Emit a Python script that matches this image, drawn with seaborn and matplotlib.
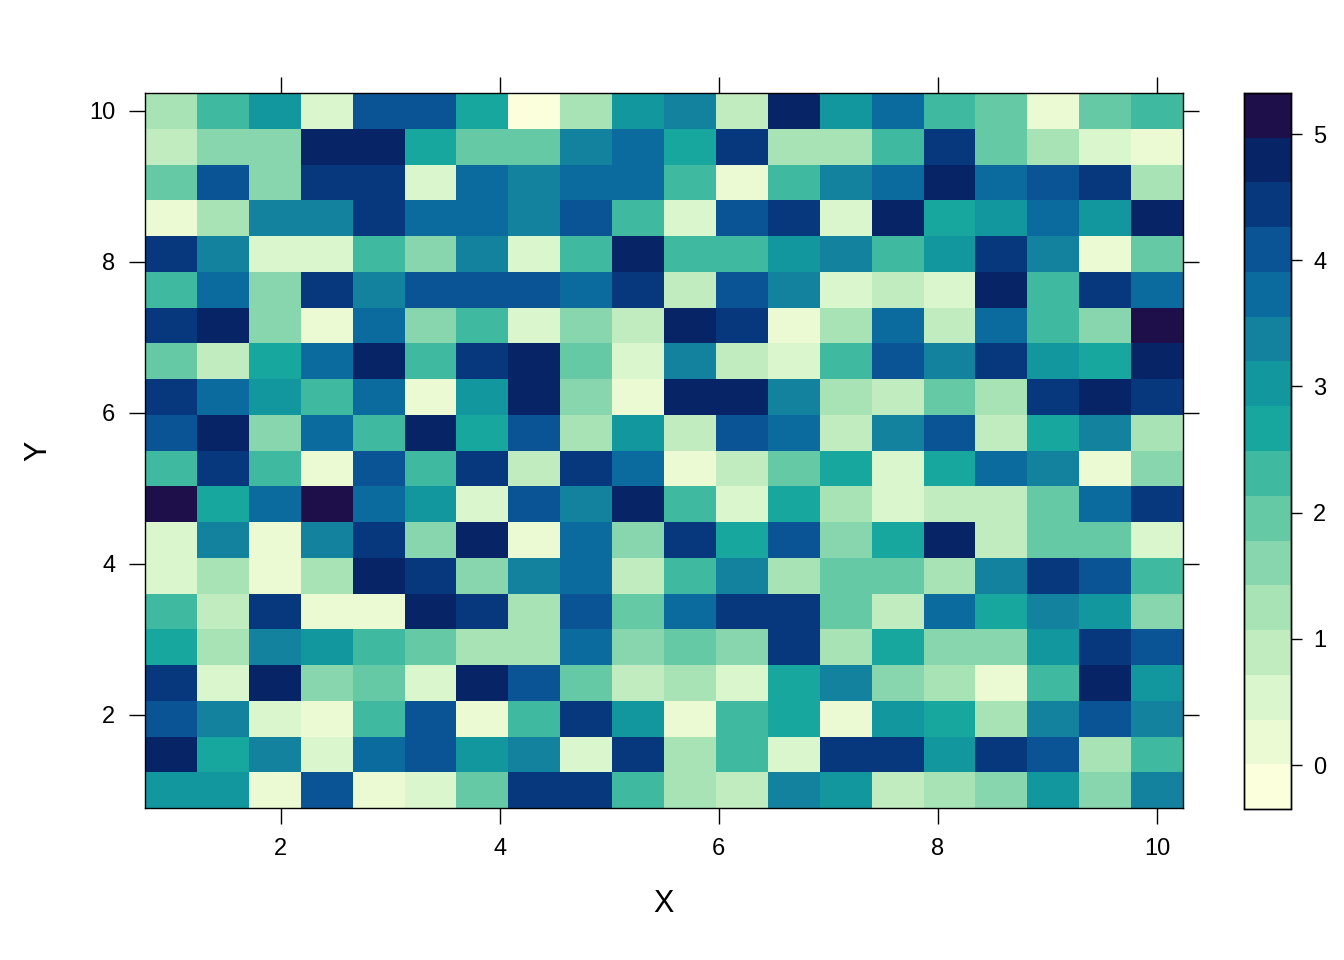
import numpy as np
import pandas as pd
import matplotlib
matplotlib.use("Agg")
import matplotlib.pyplot as plt
from matplotlib.colors import ListedColormap
import seaborn as sns

# --------------------------
# Dados
# --------------------------
x_vals = np.linspace(1, 10, 20)
y_vals = np.linspace(10, 1, 20)   # linhas de cima para baixo

z_rows = [
    [1.25, 2.31, 3.02, 0.54, 4.08, 4.08, 2.66, -0.17, 1.25, 3.02, 3.37, 0.89, 4.79, 3.02, 3.73, 2.31, 1.95, 0.18, 1.95, 2.31],
    [0.89, 1.60, 1.60, 4.79, 4.79, 2.66, 1.95, 1.95, 3.37, 3.73, 2.66, 4.44, 1.25, 1.25, 2.31, 4.44, 1.95, 1.25, 0.54, 0.18],
    [1.95, 4.08, 1.60, 4.44, 4.44, 0.54, 3.73, 3.37, 3.73, 3.73, 2.31, 0.18, 2.31, 3.37, 3.73, 4.79, 3.73, 4.08, 4.44, 1.25],
    [0.18, 1.25, 3.37, 3.37, 4.44, 3.73, 3.73, 3.37, 4.08, 2.31, 0.54, 4.08, 4.44, 0.54, 4.79, 2.66, 3.02, 3.73, 3.02, 4.79],
    [4.44, 3.37, 0.54, 0.54, 2.31, 1.60, 3.37, 0.54, 2.31, 4.79, 2.31, 2.31, 3.02, 3.37, 2.31, 3.02, 4.44, 3.37, 0.18, 1.95],
    [2.31, 3.73, 1.60, 4.44, 3.37, 4.08, 4.08, 4.08, 3.73, 4.44, 0.89, 4.08, 3.37, 0.54, 0.89, 0.54, 4.79, 2.31, 4.44, 3.73],
    [4.44, 4.79, 1.60, 0.18, 3.73, 1.60, 2.31, 0.54, 1.60, 0.89, 4.79, 4.44, 0.18, 1.25, 3.73, 0.89, 3.73, 2.31, 1.60, 5.15],
    [1.95, 0.89, 2.66, 3.73, 4.79, 2.31, 4.44, 4.79, 1.95, 0.54, 3.37, 0.89, 0.54, 2.31, 4.08, 3.37, 4.44, 3.02, 2.66, 4.79],
    [4.44, 3.73, 3.02, 2.31, 3.73, 0.18, 3.02, 4.79, 1.60, 0.18, 4.79, 4.79, 3.37, 1.25, 0.89, 1.95, 1.25, 4.44, 4.79, 4.44],
    [4.08, 4.79, 1.60, 3.73, 2.31, 4.79, 2.66, 4.08, 1.25, 3.02, 0.89, 4.08, 3.73, 0.89, 3.37, 4.08, 0.89, 2.66, 3.37, 1.25],
    [2.31, 4.44, 2.31, 0.18, 4.08, 2.31, 4.44, 0.89, 4.44, 3.73, 0.18, 0.89, 1.95, 2.66, 0.54, 2.66, 3.73, 3.37, 0.18, 1.60],
    [5.15, 2.66, 3.73, 5.15, 3.73, 3.02, 0.54, 4.08, 3.37, 4.79, 2.31, 0.54, 2.66, 1.25, 0.54, 0.89, 0.89, 1.95, 3.73, 4.44],
    [0.54, 3.37, 0.18, 3.37, 4.44, 1.60, 4.79, 0.18, 3.73, 1.60, 4.44, 2.66, 4.08, 1.60, 2.66, 4.79, 0.89, 1.95, 1.95, 0.54],
    [0.54, 1.25, 0.18, 1.25, 4.79, 4.44, 1.60, 3.37, 3.73, 0.89, 2.31, 3.37, 1.25, 1.95, 1.95, 1.25, 3.37, 4.44, 4.08, 2.31],
    [2.31, 0.89, 4.44, 0.18, 0.18, 4.79, 4.44, 1.25, 4.08, 1.95, 3.73, 4.44, 4.44, 1.95, 0.89, 3.73, 2.66, 3.37, 3.02, 1.60],
    [2.66, 1.25, 3.37, 3.02, 2.31, 1.95, 1.25, 1.25, 3.73, 1.60, 1.95, 1.60, 4.44, 1.25, 2.66, 1.60, 1.60, 3.02, 4.44, 4.08],
    [4.44, 0.54, 4.79, 1.60, 1.95, 0.54, 4.79, 4.08, 1.95, 0.89, 1.25, 0.54, 2.66, 3.37, 1.60, 1.25, 0.18, 2.31, 4.79, 3.02],
    [4.08, 3.37, 0.54, 0.18, 2.31, 4.08, 0.18, 2.31, 4.44, 3.02, 0.18, 2.31, 2.66, 0.18, 3.02, 2.66, 1.25, 3.37, 4.08, 3.37],
    [4.79, 2.66, 3.37, 0.54, 3.73, 4.08, 3.02, 3.37, 0.54, 4.44, 1.25, 2.31, 0.54, 4.44, 4.44, 3.02, 4.44, 4.08, 1.25, 2.31],
    [3.02, 3.02, 0.18, 4.08, 0.18, 0.54, 1.95, 4.44, 4.44, 2.31, 1.25, 0.89, 3.37, 3.02, 0.89, 1.25, 1.60, 3.02, 1.60, 3.37],
]

x_ticks = [2, 4, 6, 8, 10]
y_ticks = [2, 4, 6, 8, 10]
cbar_ticks = [0, 1, 2, 3, 4, 5]
z_min, z_max = -0.347, 5.325   # limites da escala de cores

# paleta de 16 níveis (claro -> escuro)
cores = ["#fbffdc", "#ebfad3", "#d9f6cc", "#c1ecc0", "#a8e3b6", "#88d6ae",
         "#65c9a6", "#3fb99f", "#17a79e", "#13979e", "#13829e", "#0c6b9e",
         "#0a5395", "#07387e", "#072466", "#1e0f4b"]
cmap = ListedColormap(cores)

df = pd.DataFrame(z_rows, index=y_vals, columns=x_vals)

# --------------------------
# Gráfico
# --------------------------
sns.set_style("ticks")
plt.rcParams['font.family'] = ['Liberation Sans', 'DejaVu Sans']

fig = plt.figure(figsize=(13.44, 9.6), dpi=100)
ax = fig.add_axes([145 / 1344, 1 - 808 / 960, 1038 / 1344, 715 / 960])
cax = fig.add_axes([1244 / 1344, 1 - 809 / 960, 47 / 1344, 716 / 960])

sns.heatmap(df, cmap=cmap, vmin=z_min, vmax=z_max, ax=ax, cbar_ax=cax,
            xticklabels=False, yticklabels=False)

# ticks em unidades dos dados -> posição das células
dx = (x_vals[-1] - x_vals[0]) / (len(x_vals) - 1)
dy = (y_vals[0] - y_vals[-1]) / (len(y_vals) - 1)
ax.set_xticks([(v - x_vals[0]) / dx + 0.5 for v in x_ticks])
ax.set_xticklabels([str(v) for v in x_ticks])
ax.set_yticks([(y_vals[0] - v) / dy + 0.5 for v in y_ticks])
ax.set_yticklabels([str(v) for v in y_ticks], rotation=0)

for s in ax.spines.values():
    s.set_visible(True)
    s.set_linewidth(1.0)
    s.set_color("black")
ax.tick_params(axis="both", which="both", direction="out", length=11.5, width=1.0,
               top=True, right=True, bottom=True, left=True,
               labeltop=False, labelright=False, labelsize=17, pad=10,
               colors="black")

ax.set_xlabel("X", fontsize=22, color="black")
ax.set_ylabel("Y", fontsize=22, color="black")
ax.xaxis.set_label_coords(0.5, -0.113)
ax.yaxis.set_label_coords(-0.088, 0.5)

# barra de cores
cax.set_yticks(cbar_ticks)
cax.set_yticklabels([str(v) for v in cbar_ticks])
cax.tick_params(axis="y", direction="out", length=8, width=1.0, labelsize=17,
                pad=8, right=True, left=False, colors="black")
for s in cax.spines.values():
    s.set_visible(True)
    s.set_linewidth(1.0)
    s.set_color("black")
cb = ax.collections[0].colorbar
cb.outline.set_linewidth(1.0)
cb.outline.set_edgecolor("black")

plt.savefig("out.png", dpi=100)
plt.close()
print("Salvo: out.png")
